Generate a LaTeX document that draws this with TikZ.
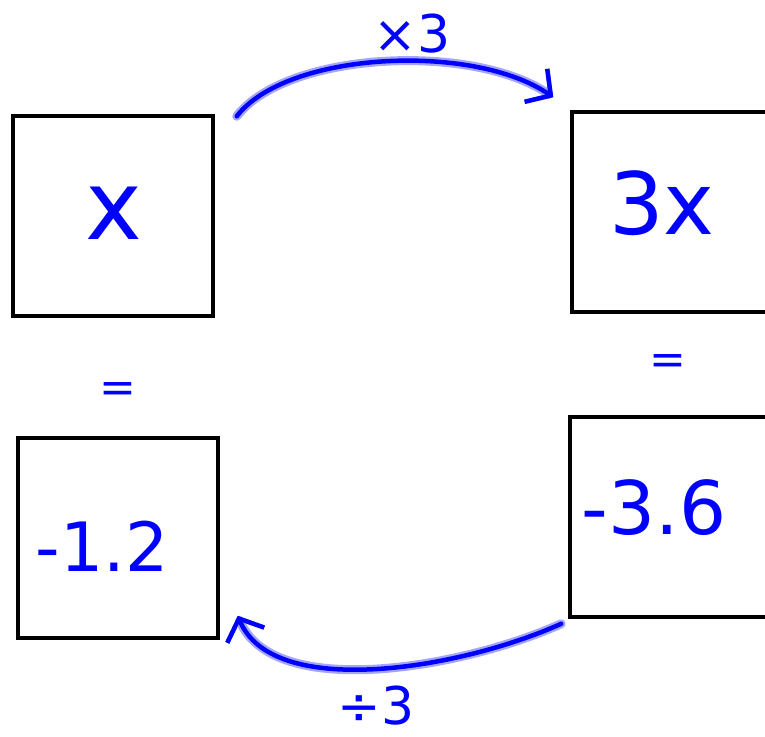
\documentclass[tikz,border=0pt]{standalone}
\usepackage{fontspec}
\newfontfamily\handfont{DejaVu Sans}
\usetikzlibrary{arrows.meta,positioning,calc}

\begin{document}
\begin{tikzpicture}[x=1pt, y=-1pt,
    box/.style={draw, line width=3.5pt, minimum width=200pt, minimum height=200pt, inner sep=0pt},
    hand/.style={text=blue, font=\handfont, inner sep=0pt},
    arr/.style={-{Straight Barb[length=18pt, width=40pt, line width=4.5pt]}, blue, line width=4.5pt, line cap=round,
        preaction={draw=blue!35, line width=9pt, line cap=round}}
]
\useasboundingbox (0,0) rectangle (765,736);
\clip (0,0) rectangle (765,736);

\node[box] (bx)    at (113,216) {};
\node[box] (b3x)   at (672,212) {};
\node[box] (bn12)  at (118,538) {};
\node[box] (bn36)  at (670,517) {};

\node[hand, font=\handfont\fontsize{96}{96}\selectfont] (lx) at (114,213) {x};
\node[hand, font=\handfont\fontsize{86}{86}\selectfont] (l3x) at (662,203) {3x};
\node[hand, font=\handfont\fontsize{68}{68}\selectfont] (ln12) at (102,546) {-1.2};
\node[hand, font=\handfont\fontsize{74}{74}\selectfont] (ln36) at (654,508) {-3.6};
\node[hand, font=\handfont\fontsize{44}{44}\selectfont] (eq1) at (118,393) {=};
\node[hand, font=\handfont\fontsize{44}{44}\selectfont] (eq2) at (668,365) {=};
\node[hand, font=\handfont\fontsize{52}{52}\selectfont] (lmul) at (412,34) {×3};
\node[hand, font=\handfont\fontsize{52}{52}\selectfont] (ldiv) at (376,706) {÷3};

\draw[arr] ([shift={(22,2)}]bx.north east) .. controls +(50,-65) and +(-80,-55) .. ([shift={(-17,-13)}]b3x.north west);
\draw[arr] ([shift={(-7,5)}]bn36.south west) .. controls +(-100,45) and +(35,85) .. ([shift={(18,-24)}]bn12.south east);
\end{tikzpicture}
\end{document}
